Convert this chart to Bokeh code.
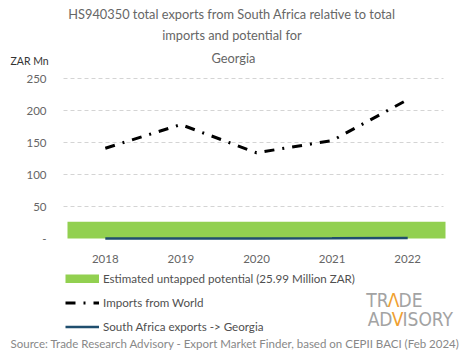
from bokeh.plotting import figure
from bokeh.models import Label, Legend, LegendItem, FixedTicker, Range1d
from bokeh.embed import file_html
from bokeh.resources import INLINE

years = [2018, 2019, 2020, 2021, 2022]
imports_world = [141, 178, 134, 153, 217]
sa_exports = [0.1, 0.1, 0.1, 0.3, 0.7]
untapped_potential = 25.99
y_ticks = [0, 50, 100, 150, 200, 250]
grid_ticks = [50, 100, 150, 200, 250]

FONT = "Lato"
W, H = 465, 359
# chart area in page pixels
X0_PX, X1_PX = 67, 445          # left/right edge of chart area (x = 2017.5 .. 2022.5)
Y0_PX, PX_PER_UNIT = 238, 0.64  # baseline (value 0) and vertical scale
xs0, xs1 = years[0] - 0.5, years[-1] + 0.5
ppy = (X1_PX - X0_PX) / (xs1 - xs0)
x_range = Range1d(xs0 - X0_PX / ppy, xs1 + (W - X1_PX) / ppy)
y_range = Range1d(-(H - Y0_PX) / PX_PER_UNIT, Y0_PX / PX_PER_UNIT)

p = figure(width=W, height=H, output_backend="svg", toolbar_location=None,
           x_range=x_range, y_range=y_range,
           min_border=0, min_border_left=0, min_border_right=0,
           min_border_top=0, min_border_bottom=0)
p.outline_line_color = None

for ax in (p.xaxis[0], p.yaxis[0]):
    ax.axis_line_color = None
    ax.major_tick_line_color = None
    ax.minor_tick_line_color = None
    ax.major_label_text_font = FONT
    ax.major_label_text_font_size = "11.5px"
    ax.major_label_text_color = "#666666"
p.xaxis.ticker = FixedTicker(ticks=years)
p.xaxis.major_label_standoff = 10
p.xaxis.fixed_location = 0
p.yaxis.ticker = FixedTicker(ticks=y_ticks)
p.yaxis.major_label_overrides = {0: "-"}
p.yaxis.major_label_standoff = 15
p.yaxis.fixed_location = xs0

p.xgrid.visible = False
p.ygrid.ticker = FixedTicker(ticks=grid_ticks)
p.ygrid.grid_line_color = "#d4d4d4"
p.ygrid.grid_line_dash = "4 3"
p.ygrid.cross_bounds = (xs0 - 0.05, xs1 - 0.02)

r_pot = p.quad(left=[xs0], right=[xs1], bottom=[0],
               top=[untapped_potential], fill_color="#92d050", line_color=None)
r_imp = p.line(years, imports_world, line_color="black", line_width=3,
               line_dash="10 8 2 8")
r_sa = p.line(years, sa_exports, line_color="#1f4e6e", line_width=2.5)
# legend-only swatch for the potential band (draws nothing in the plot)
r_pot_key = p.line(x=[float("nan")], y=[float("nan")], line_color="#92d050",
                   line_width=9, line_cap="butt")

legend = Legend(items=[
    LegendItem(label="Estimated untapped potential (25.99 Million ZAR)", renderers=[r_pot_key]),
    LegendItem(label="Imports from World", renderers=[r_imp]),
    LegendItem(label="South Africa exports -> Georgia", renderers=[r_sa]),
], location=(65, H - 333), orientation="vertical")
legend.glyph_width = 34
legend.glyph_height = 9
legend.label_height = 13
legend.label_text_font = FONT
legend.label_text_font_size = "11.6px"
legend.label_text_color = "#505050"
legend.label_standoff = 4
legend.spacing = 11
legend.padding = 0
legend.margin = 0
legend.border_line_color = None
legend.background_fill_alpha = 0
p.add_layout(legend, "center")


def lab(text, px, py, size="11px", color="#666666", align="left", font=FONT):
    p.add_layout(Label(x=px, y=H - py, x_units="screen", y_units="screen",
                       text=text, text_font=font, text_font_size=size, text_color=color,
                       text_align=align, text_baseline="middle"))


lab("HS940350 total exports from South Africa relative  to total", 233, 13, size="12.8px", align="center")
lab("imports and potential  for", 233, 34, size="12.8px", align="center")
lab("Georgia", 233, 57, size="12.8px", align="center")
lab("ZAR Mn", 10, 60, size="10.5px", color="#333333")
lab("Source: Trade Research Advisory - Export Market Finder, based on CEPII BACI (Feb 2024)",
    10, 343, size="11.5px", color="#888888")

LOGO = "DejaVu Sans Condensed"
G, O = "#a3a3a3", "#f0a030"
lab("TR", 388, 299, size="19px", color=G, align="right", font=LOGO)
lab("\u039b", 393, 299, size="19px", color=O, align="center", font=LOGO)
lab("DE", 398, 299, size="19px", color=G, align="left", font=LOGO)
lab("AD", 392, 318, size="19px", color=G, align="right", font=LOGO)
lab("V", 397, 318, size="19px", color=O, align="center", font=LOGO)
lab("ISORY", 402, 318, size="19px", color=G, align="left", font=LOGO)

open("out.html", "w").write(file_html(p, INLINE))
